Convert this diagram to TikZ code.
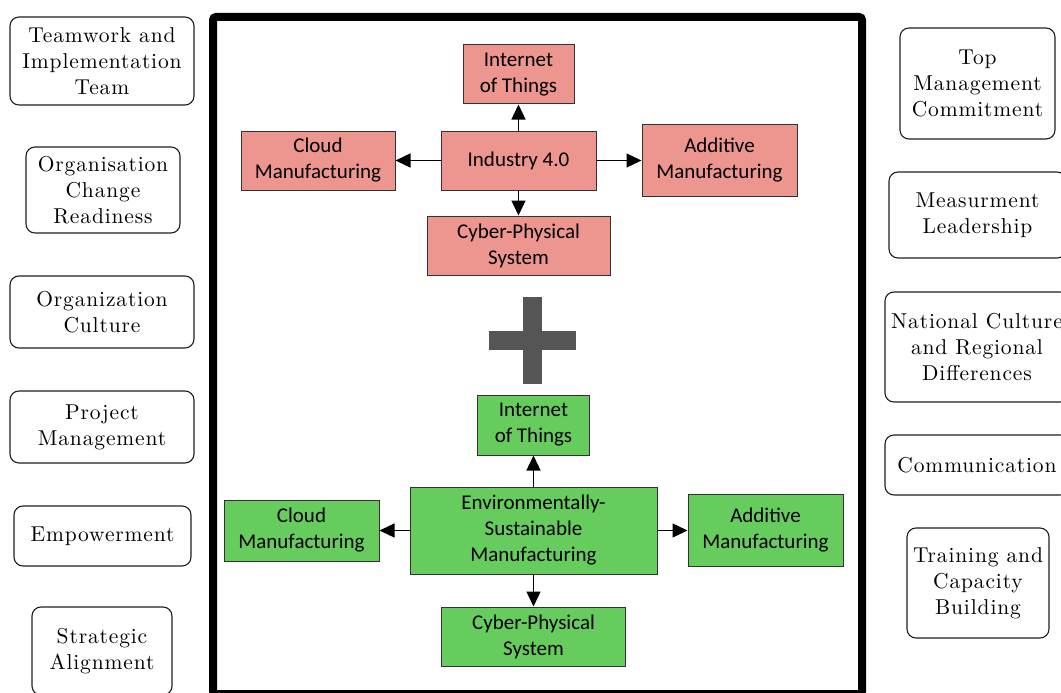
\documentclass[tikz,border=0pt]{standalone}
\usepackage{fontspec}
\usetikzlibrary{arrows.meta}
\newfontfamily\calfont{Carlito}
\newfontfamily\sidefont{lmroman10-regular.otf}[LetterSpace=4]
\definecolor{redfill}{RGB}{236,150,143}
\definecolor{greenfill}{RGB}{102,204,94}
\definecolor{edgegray}{RGB}{50,50,50}
\definecolor{sideedge}{RGB}{30,30,30}
\definecolor{plusgray}{RGB}{85,85,85}
\begin{document}
\begin{tikzpicture}[x=1pt,y=-1pt,
  sidebox/.style={draw=sideedge, line width=1.1pt, rounded corners=9pt, inner sep=0pt,
    align=center, font=\sidefont\fontsize{21.5}{26}\selectfont},
  itembox/.style={draw=edgegray, line width=1pt, inner sep=0pt, align=center,
    font=\calfont\fontsize{21}{26}\selectfont},
  redbox/.style={itembox, fill=redfill},
  greenbox/.style={itembox, fill=greenfill},
  arr/.style={line width=1.4pt, -{Triangle[length=15pt,width=14pt]}}
]
\useasboundingbox (0,0) rectangle (1061,693);
\clip (0,0) rectangle (1061,693);

% outer frame
\draw[line width=8pt, rounded corners=3pt] (213,17) rectangle (862,694);

% left-hand factors
\node[sidebox, minimum width=184pt, minimum height=88pt] (l1) at (102,61) {Teamwork and\\Implementation\\Team};
\node[sidebox, minimum width=154pt, minimum height=86pt] (l2) at (103,190) {Organisation\\Change\\Readiness};
\node[sidebox, minimum width=184pt, minimum height=72pt] (l3) at (102,312) {Organization\\Culture};
\node[sidebox, minimum width=184pt, minimum height=72pt] (l4) at (102,427) {Project\\Management};
\node[sidebox, minimum width=177pt, minimum height=60pt] (l5) at (102.5,536) {Empowerment};
\node[sidebox, minimum width=140pt, minimum height=88pt] (l6) at (102,651) {Strategic\\Alignment};

% right-hand factors
\node[sidebox, minimum width=155pt, minimum height=111pt] (r1) at (977.5,83.5) {Top\\Management\\Commitment};
\node[sidebox, minimum width=177pt, minimum height=86pt] (r2) at (977.5,215) {Measurment\\Leadership};
\node[sidebox, minimum width=184pt, minimum height=110pt] (r3) at (977,347) {National Culture\\and Regional\\Differences};
\node[sidebox, minimum width=184pt, minimum height=60pt] (r4) at (977,465) {Communication};
\node[sidebox, minimum width=142pt, minimum height=110pt] (r5) at (978,583) {Training and\\Capacity\\Building};

% Industry 4.0 cluster
\node[redbox, minimum width=155pt, minimum height=59pt] (ind) at (518.5,160.5) {Industry 4.0};
\node[redbox, minimum width=111pt, minimum height=59pt] (iotA) at (518.5,74.5) {Internet\\of Things};
\node[redbox, minimum width=154pt, minimum height=59pt] (cloudA) at (318,160.5) {Cloud\\Manufacturing};
\node[redbox, minimum width=155pt, minimum height=72pt] (addA) at (719.5,160.5) {Additive\\Manufacturing};
\node[redbox, minimum width=183pt, minimum height=59pt] (cpsA) at (518.5,245.5) {Cyber-Physical\\System};
\draw[arr] (ind.north) -- (iotA.south);
\draw[arr] (ind.west) -- (cloudA.east);
\draw[arr] (ind.east) -- (addA.west);
\draw[arr] (ind.south) -- (cpsA.north);

% plus sign
\fill[plusgray] (523,297) rectangle (542,384);
\fill[plusgray] (489,331) rectangle (576,350);

% sustainable manufacturing cluster
\node[greenbox, minimum width=247pt, minimum height=87pt] (esm) at (533.5,530.5) {Environmentally-\\Sustainable\\Manufacturing};
\node[greenbox, minimum width=112pt, minimum height=60pt] (iotB) at (533.5,425) {Internet\\of Things};
\node[greenbox, minimum width=155pt, minimum height=61pt] (cloudB) at (301.5,530.5) {Cloud\\Manufacturing};
\node[greenbox, minimum width=155pt, minimum height=72pt] (addB) at (765.5,530.5) {Additive\\Manufacturing};
\node[greenbox, minimum width=184pt, minimum height=59pt] (cpsB) at (533.5,636.5) {Cyber-Physical\\System};
\draw[arr] (esm.north) -- (iotB.south);
\draw[arr] (esm.west) -- (cloudB.east);
\draw[arr] (esm.east) -- (addB.west);
\draw[arr] (esm.south) -- (cpsB.north);
\end{tikzpicture}
\end{document}
